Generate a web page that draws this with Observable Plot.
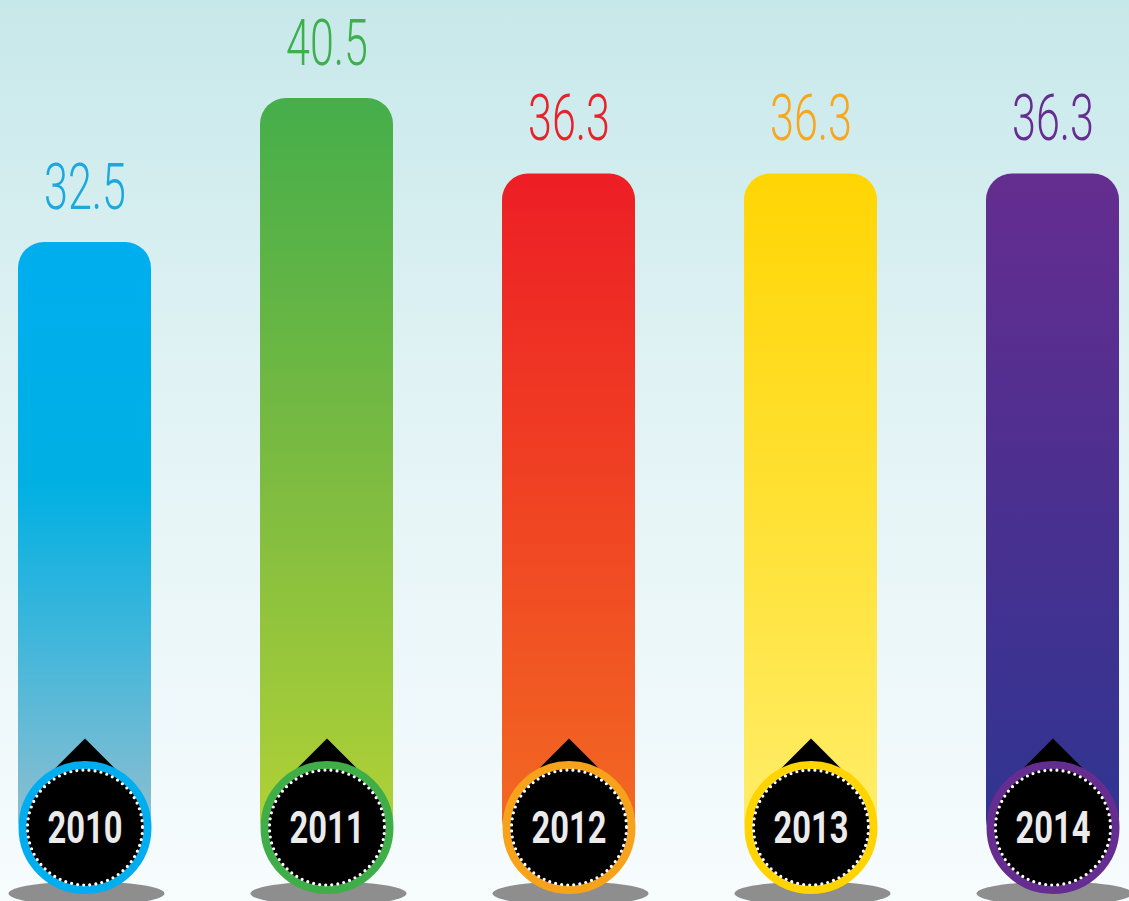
<!DOCTYPE html>
<html><head><meta charset="utf-8">
<script src="https://cdn.jsdelivr.net/npm/d3@7"></script>
<script src="https://cdn.jsdelivr.net/npm/@observablehq/plot@0.6"></script>
<style>html,body{margin:0;padding:0;background:#f7fcfd;overflow:hidden}svg{display:block}</style>
</head><body><div id="chart"></div>
<script>
const years = ["2010", "2011", "2012", "2013", "2014"];
const values = [32.5, 40.5, 36.3, 36.3, 36.3];
const barTop = ["#00AEEF", "#45AE4A", "#ED1E25", "#FFD503", "#652D90"];
const barMid = ["#00B0E3", "#7CBB41", "#F04423", "#FFE134", "#4A3090"];
const barBottom = ["#96BFCF", "#B3D235", "#F26B22", "#FFEE6B", "#2E3591"];
const ringColors = ["#00AEEF", "#3FAE49", "#F7A21B", "#FFD400", "#662D91"];
const labelColors = ["#1BA8DE", "#3DB04B", "#E8222B", "#F8A61C", "#662D91"];
const midStop = [0.4, 0.5, 0.5, 0.5, 0.5];

const data = years.map((year, i) => ({
  year, value: values[i], i, ring: ringColors[i], label: labelColors[i]
}));

const valueFont = "Roboto, 'Liberation Sans Narrow', 'DejaVu Sans Condensed', sans-serif";
const yearFont = "Roboto, 'Liberation Sans Narrow', 'DejaVu Sans Condensed', sans-serif";

const triangle = {draw(ctx) { ctx.moveTo(0, -89); ctx.lineTo(34, -55); ctx.lineTo(-34, -55); ctx.closePath(); }};
const shadow = {draw(ctx) {
  const cx = 1.5, cy = 66, rx = 78, ry = 12, k = 0.5523;
  ctx.moveTo(cx - rx, cy);
  ctx.bezierCurveTo(cx - rx, cy - k * ry, cx - k * rx, cy - ry, cx, cy - ry);
  ctx.bezierCurveTo(cx + k * rx, cy - ry, cx + rx, cy - k * ry, cx + rx, cy);
  ctx.bezierCurveTo(cx + rx, cy + k * ry, cx + k * rx, cy + ry, cx, cy + ry);
  ctx.bezierCurveTo(cx - k * rx, cy + ry, cx - rx, cy + k * ry, cx - rx, cy);
  ctx.closePath();
}};

const defs = () => {
  const d = d3.create("svg:defs");
  years.forEach((y, i) => {
    const g = d.append("linearGradient").attr("id", "bar-grad-" + i)
      .attr("x1", 0).attr("y1", 0).attr("x2", 0).attr("y2", 1);
    g.append("stop").attr("offset", 0).attr("stop-color", barTop[i]);
    g.append("stop").attr("offset", midStop[i]).attr("stop-color", barMid[i]);
    g.append("stop").attr("offset", 1).attr("stop-color", barBottom[i]);
  });
  return d.node();
};

const chart = Plot.plot({
  width: 1129,
  height: 901,
  marginTop: 17,
  marginBottom: 74,
  marginLeft: 17,
  marginRight: 9,
  style: {background: "linear-gradient(to bottom, #C7E8EA 0%, #E2F3F5 45%, #F7FCFD 100%)", overflow: "visible"},
  x: {domain: years, paddingInner: 0.452, paddingOuter: 0, axis: null},
  y: {domain: [0, 45], axis: null},
  color: {type: "identity"},
  marks: [
    defs,
    Plot.barY(data, {x: "year", y: "value", fill: d => `url(#bar-grad-${d.i})`, rx: 26, insetBottom: -18}),
    Plot.dot(data, {x: "year", y: () => 0, symbol: shadow, r: 10, fill: "#8E8E8E"}),
    Plot.dot(data, {x: "year", y: () => 0, symbol: triangle, r: 10, fill: "black"}),
    Plot.dot(data, {x: "year", y: () => 0, r: 62.5, fill: "black", stroke: "ring", strokeWidth: 8}),
    Plot.dot(data, {x: "year", y: () => 0, r: 57.5, fill: "none", stroke: "white", strokeWidth: 3.2, strokeDasharray: "0 6.1", strokeLinecap: "round"}),
    Plot.text(data, {x: "year", y: () => 0, text: "year", fill: "#EBEBEB", fontSize: 45, fontWeight: "bold", fontFamily: yearFont, lineAnchor: "middle", dy: 1.5}),
    Plot.text(data, {x: "year", y: "value", text: d => d.value.toFixed(1), fill: "label", fontSize: 65, fontWeight: 300, fontFamily: valueFont, lineAnchor: "bottom", dy: -34})
  ]
});

document.getElementById("chart").appendChild(chart);

function squeeze(group, targetWidth) {
  if (!group) return;
  const nodes = group.querySelectorAll("text");
  if (!nodes.length) return;
  const w = nodes[0].getBBox().width;
  const s = w > 0 ? targetWidth / w : 1;
  nodes.forEach(node => {
    const t = node.getAttribute("transform") || "";
    const xa = node.getAttribute("x");
    const x = xa != null && isFinite(+xa) ? +xa : 0;
    if (xa != null && isFinite(+xa)) node.removeAttribute("x");
    node.setAttribute("transform", `${t} translate(${x},0) scale(${s},1)`);
  });
}
const textGroups = chart.querySelectorAll('g[aria-label="text"]');
squeeze(textGroups[0], 75);
squeeze(textGroups[1], 82);
</script>
</body></html>
